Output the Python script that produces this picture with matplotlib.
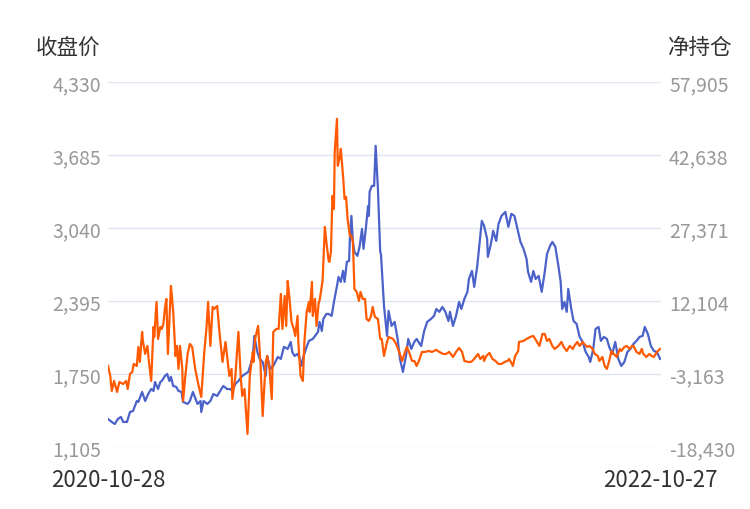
import matplotlib
matplotlib.use("Agg")
import matplotlib.pyplot as plt
import pandas as pd

plt.rcParams["font.family"] = ["Noto Sans CJK SC", "DejaVu Sans"]

start = pd.Timestamp("2020-10-28")
end = pd.Timestamp("2022-10-27")

# 收盘价 (left axis): days after start, value
price_days = [0, 5, 9, 13, 17, 20, 25, 29, 33, 38, 40, 45, 49, 53, 57, 60, 62, 66, 69, 71,
              75, 78, 81, 83, 86, 90, 93, 97, 99, 105, 108, 112, 118, 122, 123, 126, 131, 135, 139, 144,
              148, 152, 157, 161, 164, 168, 172, 177, 181, 185, 191, 193, 197, 200, 204, 208, 210, 214, 218, 224,
              228, 232, 237, 241, 243, 246, 250, 253, 255, 258, 262, 265, 270, 273, 277, 279, 282, 284, 288, 291,
              295, 298, 302, 304, 307, 310, 312, 315, 318, 319, 321, 323, 325, 329, 332, 335, 337, 340, 343, 344,
              345, 348, 351, 353, 356, 359, 360, 364, 368, 370, 374, 378, 382, 385, 389, 393, 396, 400, 404, 407,
              413, 417, 421, 426, 430, 433, 437, 441, 445, 449, 451, 455, 459, 463, 466, 470, 474, 476, 480, 483,
              487, 491, 493, 496, 500, 501, 505, 508, 512, 515, 519, 524, 528, 532, 536, 540, 544, 548, 552, 554,
              558, 561, 564, 568, 572, 576, 579, 583, 586, 590, 594, 597, 599, 602, 605, 607, 611, 614, 618, 622,
              626, 630, 634, 636, 640, 643, 647, 650, 654, 658, 661, 665, 669, 673, 677, 681, 685, 689, 693, 697,
              701, 705, 708, 712, 716, 720, 724, 728]
price = [1352, 1326, 1308, 1352, 1370, 1326, 1326, 1414, 1423, 1511, 1503, 1591, 1511, 1573, 1617, 1600, 1679, 1617, 1679, 1688,
         1732, 1750, 1688, 1724, 1644, 1635, 1600, 1591, 1503, 1485, 1511, 1591, 1485, 1511, 1414, 1511, 1485, 1511, 1573, 1556,
         1600, 1644, 1617, 1617, 1600, 1662, 1688, 1732, 1750, 1768, 1900, 2086, 1944, 1883, 1856, 1732, 1909, 1794, 1821, 1900,
         1883, 1989, 1971, 2033, 1944, 1909, 1927, 1883, 1821, 1909, 1989, 2042, 2059, 2086, 2121, 2210, 2130, 2236, 2280, 2280,
         2263, 2386, 2528, 2607, 2563, 2660, 2563, 2740, 2748, 2943, 3146, 2916, 2828, 2793, 2881, 3031, 2855, 3031, 3234, 3146,
         3358, 3411, 3411, 3765, 3385, 2828, 2810, 2351, 2086, 2307, 2174, 2210, 2059, 1883, 1768, 1909, 2059, 1971, 2033, 2059,
         1997, 2130, 2210, 2236, 2263, 2324, 2298, 2342, 2298, 2218, 2298, 2174, 2263, 2386, 2324, 2413, 2475, 2589, 2660, 2519,
         2704, 2969, 3102, 3058, 2943, 2784, 2899, 3014, 2925, 3075, 3146, 3181, 3049, 3164, 3146, 3031, 2916, 2855, 2766, 2651,
         2563, 2660, 2589, 2616, 2475, 2651, 2810, 2881, 2916, 2872, 2704, 2563, 2324, 2386, 2298, 2501, 2324, 2218, 2192, 2077,
         2033, 1944, 1900, 1856, 1971, 2148, 2165, 2042, 2077, 2059, 1989, 1927, 2033, 1883, 1821, 1856, 1944, 1971, 2015, 2042,
         2077, 2086, 2165, 2103, 1997, 1953, 1944, 1883]

# 净持仓 (right axis)
net_days = [0, 3, 5, 8, 12, 15, 20, 24, 26, 29, 32, 34, 38, 40, 42, 45, 46, 49, 52, 54,
            57, 60, 61, 64, 66, 69, 71, 73, 75, 77, 79, 83, 86, 89, 91, 93, 95, 98, 99, 102,
            105, 108, 111, 115, 119, 123, 127, 130, 132, 135, 138, 140, 144, 147, 151, 155, 157, 160, 163, 164,
            168, 172, 175, 177, 180, 184, 187, 191, 192, 194, 198, 201, 204, 208, 210, 213, 216, 218, 222, 225,
            228, 230, 233, 235, 237, 239, 242, 245, 247, 250, 251, 254, 257, 259, 262, 265, 266, 269, 270, 273,
            275, 278, 279, 282, 283, 286, 288, 291, 292, 294, 296, 298, 299, 302, 303, 306, 307, 310, 312, 314,
            316, 319, 321, 323, 325, 328, 331, 333, 336, 339, 341, 344, 347, 349, 352, 356, 359, 361, 364, 368,
            370, 376, 380, 384, 388, 390, 394, 397, 401, 404, 407, 410, 414, 418, 423, 427, 433, 437, 442, 446,
            450, 455, 459, 463, 467, 470, 475, 479, 483, 488, 491, 495, 496, 499, 503, 507, 511, 515, 519, 523,
            527, 529, 532, 534, 537, 541, 542, 548, 552, 557, 561, 565, 569, 573, 576, 579, 582, 586, 589, 594,
            598, 601, 605, 609, 613, 615, 619, 622, 626, 628, 632, 635, 639, 642, 646, 648, 652, 655, 658, 661,
            664, 667, 671, 675, 677, 681, 684, 688, 691, 693, 697, 701, 704, 706, 710, 714, 717, 720, 724, 728]
net = [-1490, -3581, -6718, -4627, -6927, -4836, -5254, -4627, -6300, -3163, -2744, -1071, -1490, 2484, -653, 5621, 3739, 1020, 2693, -653,
       -4627, 6667, 4575, 11895, 4157, 6667, 6249, 7294, 10431, 12523, 1020, 15242, 9804, 602, 2693, -2117, 2693, -2117, -8810, -3581,
       1020, 3111, 2484, -2117, -5254, -7973, 1438, 6667, 11895, 2693, 10850, 10431, 11059, 5621, -653, 3530, 602, -3581, -2117, -8391,
       -3581, 5621, -3581, -7764, -6300, -15711, -3581, 1438, -653, 4157, 6876, -653, -11947, -653, 602, -2117, -8391, 5621, 6249, 6249,
       13568, 6249, 13150, 6876, 16287, 13150, 7713, 6249, 4785, 8967, 3530, -3581, -4627, 3530, 9804, 11895, 9804, 16078, 8967, 12523,
       6876, 11895, 12104, 15242, 16287, 27581, 24444, 20470, 20261, 22352, 34064, 31345, 43266, 50168, 40338, 42430, 43894, 38247, 33437, 33855,
       29254, 25699, 25699, 24444, 14614, 13987, 12104, 13987, 12523, 12523, 8340, 7922, 8967, 10850, 8758, 8340, 4157, 4157, 602, 3530,
       4575, 4157, 3111, 1438, -444, 602, 2484, 1438, -444, -444, -1490, -444, 1438, 1438, 1647, 1438, 1857, 1438, 1020, 1020,
       1438, 393, 1438, 2275, 1438, -444, -653, -653, -26, 1020, -26, 602, -444, 602, 1229, -26, -444, -1071, -1071, -653,
       -444, -26, -862, -1490, 602, 1647, 3530, 3739, 4157, 4575, 4785, 3739, 2693, 5203, 5203, 3739, 4157, 2693, 2066, 2693,
       3530, 2484, 1647, 2693, 2066, 2693, 3530, 2693, 3530, 3111, 2484, 2693, 2066, 1020, 602, -444, 393, -1490, -2117, -444,
       1647, 1020, 393, 2066, 1647, 2484, 2693, 2066, 2693, 2693, 1438, 1020, 2066, 1020, 393, 1020, 602, 393, 1438, 2066]

left_ticks = [1105, 1750, 2395, 3040, 3685, 4330]
right_ticks = [-18430, -3163, 12104, 27371, 42638, 57905]

price_dates = start + pd.to_timedelta(price_days, unit="D")
net_dates = start + pd.to_timedelta(net_days, unit="D")

fig = plt.figure(figsize=(7.5, 5.1), dpi=100)
ax = fig.add_axes([0.144, 0.1216, 0.737, 0.716])
ax2 = ax.twinx()

ax.plot(price_dates, price, color="#4a62c9", linewidth=1.6, zorder=3)
ax2.plot(net_dates, net, color="#ff5a00", linewidth=1.6, zorder=3)

ax.set_xlim(start, end)
ax.set_ylim(left_ticks[0], left_ticks[-1])
ax2.set_ylim(right_ticks[0], right_ticks[-1])

ax.set_yticks(left_ticks)
ax.set_yticklabels([f"{v:,}" for v in left_ticks])
ax2.set_yticks(right_ticks)
ax2.set_yticklabels([f"{v:,}" for v in right_ticks])
ax.set_xticks([start, end])
ax.set_xticklabels(["2020-10-28", "2022-10-27"])

ax.grid(axis="y", color="#e0e6f1", linewidth=1)
ax.set_axisbelow(True)
for a in (ax, ax2):
    for s in a.spines.values():
        s.set_visible(False)
ax.tick_params(axis="y", length=0, pad=5, labelsize=14, labelcolor="#999999")
ax2.tick_params(axis="y", length=0, pad=6, labelsize=14, labelcolor="#999999")
ax.tick_params(axis="x", length=0, pad=15, labelsize=16, labelcolor="#333333")

fig.text(0.134, 0.905, "收盘价", ha="right", va="center", fontsize=15.5, color="#333333")
fig.text(0.89, 0.905, "净持仓", ha="left", va="center", fontsize=15.5, color="#333333")

fig.savefig("out.png", dpi=100)
